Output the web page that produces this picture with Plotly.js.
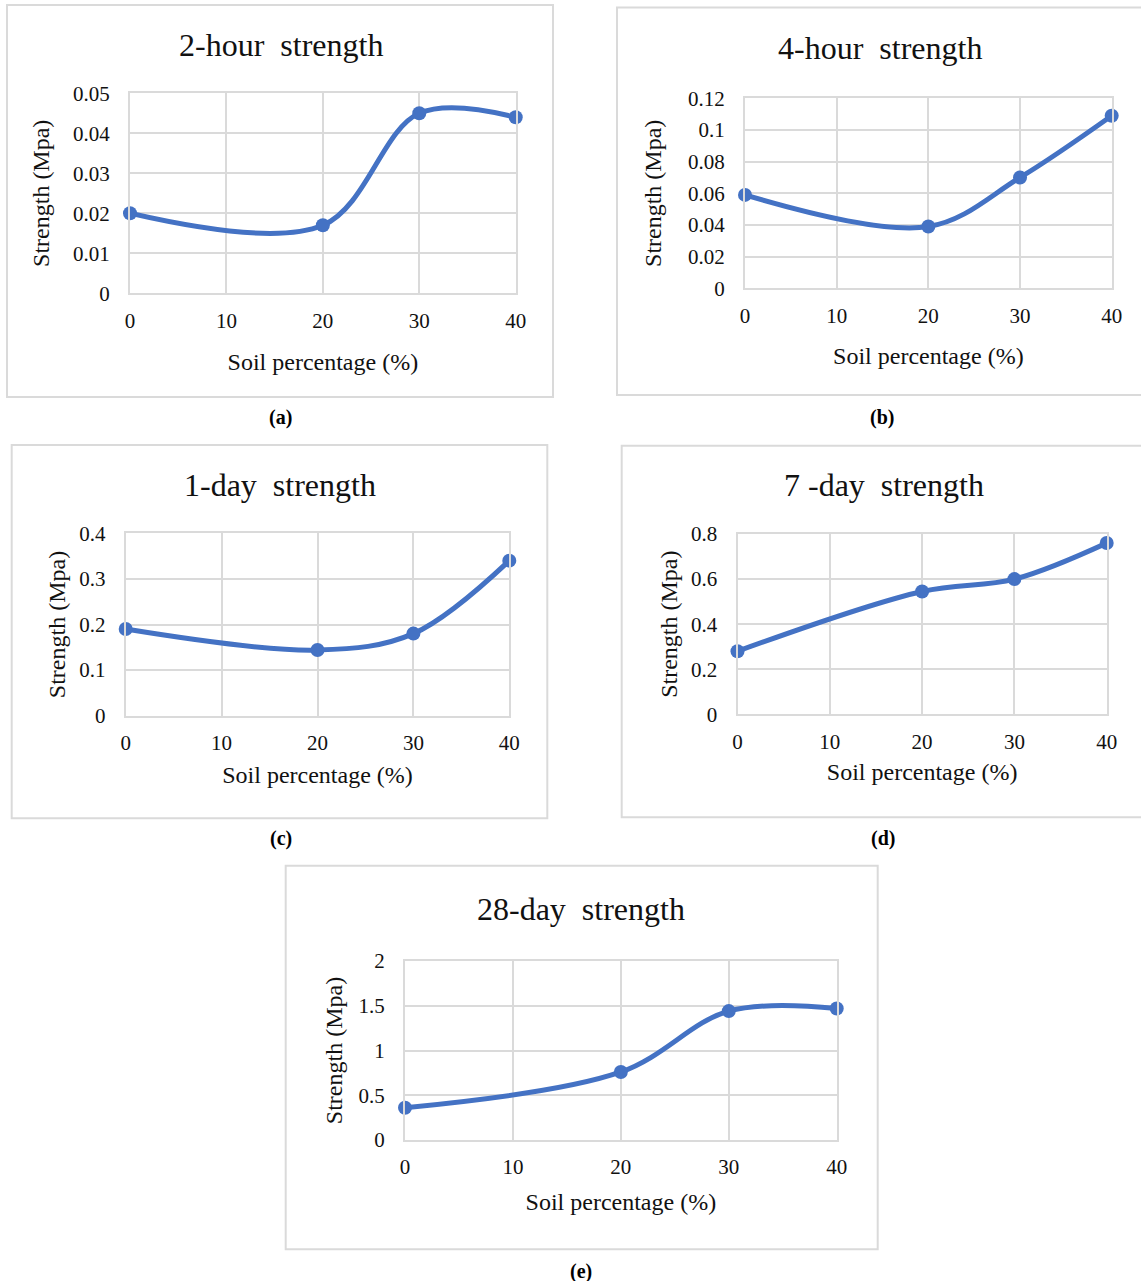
<!DOCTYPE html>
<html><head><meta charset="utf-8">
<script src="https://cdn.plot.ly/plotly-3.0.1.min.js"></script>
<style>html,body{margin:0;padding:0;background:#fff}#chart{width:1141px;height:1281px}</style>
</head><body><div id="chart"></div>
<script>
// ---------- data ----------
const soilPct = [0, 20, 30, 40];
const xTickVals = [0, 10, 20, 30, 40];
const xTickText = ['0', '10', '20', '30', '40'];

const strength2h = [0.020, 0.017, 0.045, 0.044];
const strength4h = [0.059, 0.039, 0.070, 0.109];
const strength1d = [0.190, 0.144, 0.180, 0.340];
const strength7d = [0.280, 0.545, 0.600, 0.760];
const strength28d = [0.36, 0.76, 1.44, 1.47];

const yTicks2h = [0, 0.01, 0.02, 0.03, 0.04, 0.05];
const yLabels2h = ['0', '0.01', '0.02', '0.03', '0.04', '0.05'];
const yTicks4h = [0, 0.02, 0.04, 0.06, 0.08, 0.1, 0.12];
const yLabels4h = ['0', '0.02', '0.04', '0.06', '0.08', '0.1', '0.12'];
const yTicks1d = [0, 0.1, 0.2, 0.3, 0.4];
const yLabels1d = ['0', '0.1', '0.2', '0.3', '0.4'];
const yTicks7d = [0, 0.2, 0.4, 0.6, 0.8];
const yLabels7d = ['0', '0.2', '0.4', '0.6', '0.8'];
const yTicks28d = [0, 0.5, 1, 1.5, 2];
const yLabels28d = ['0', '0.5', '1', '1.5', '2'];

const titles = ['2-hour\u00a0 strength', '4-hour\u00a0 strength', '1-day\u00a0 strength', '7 -day\u00a0 strength', '28-day\u00a0 strength'];
const panelLabels = ['(a)', '(b)', '(c)', '(d)', '(e)'];
const xTitle = 'Soil percentage (%)';
const yTitle = 'Strength (Mpa)';

// ---------- layout geometry (px) ----------
const W = 1141, H = 1281;
const panels = [
  {y: strength2h, yt: yTicks2h, yl: yLabels2h, plot: [130, 93.3, 515.7, 293.3], box: [7, 5, 553, 397], titleXY: [281, 45], labelXY: [280, 418], xso: 22, yso: 17},
  {y: strength4h, yt: yTicks4h, yl: yLabels4h, plot: [745, 98.3, 1111.7, 288.3], box: [617, 7.5, 1150, 395], titleXY: [880, 48], labelXY: [882, 418], xso: 21, yso: 20},
  {y: strength1d, yt: yTicks1d, yl: yLabels1d, plot: [125.7, 533.3, 509.3, 715.7], box: [11.7, 445, 547.3, 818.3], titleXY: [280, 485.5], labelXY: [281, 839], xso: 12, yso: 7},
  {y: strength7d, yt: yTicks7d, yl: yLabels7d, plot: [737.5, 534, 1106.7, 714.3], box: [621.7, 445.7, 1150, 817.3], titleXY: [884, 485.5], labelXY: [883, 839], xso: 11, yso: 6.5},
  {y: strength28d, yt: yTicks28d, yl: yLabels28d, plot: [405, 961, 836.7, 1140], box: [285.7, 865.7, 877.7, 1249.3], titleXY: [581, 909], labelXY: [581, 1271], xso: 15, yso: 9}
];

const FONT = 'Liberation Serif, Times New Roman, serif';
const GRID = '#dadada';
const BLUE = '#4472C4';
const px = x => x / W;
const py = y => 1 - y / H;

const data = [];
const layout = {
  width: W, height: H,
  margin: {l: 0, r: 0, t: 0, b: 0},
  paper_bgcolor: '#ffffff', plot_bgcolor: '#ffffff',
  showlegend: false,
  font: {family: FONT, color: '#000'},
  shapes: [], annotations: []
};

panels.forEach((p, i) => {
  const n = i === 0 ? '' : String(i + 1);
  data.push({
    type: 'scatter', mode: 'lines+markers',
    x: soilPct, y: p.y,
    xaxis: 'x' + n, yaxis: 'y' + n,
    line: {color: BLUE, width: 5, shape: 'spline', smoothing: 1},
    marker: {color: BLUE, size: 14},
    cliponaxis: false, hoverinfo: 'x+y'
  });
  const [l, t, r, b] = p.plot;
  layout['xaxis' + n] = {
    domain: [px(l), px(r)], anchor: 'y' + n,
    range: [0, 40], tickmode: 'array', tickvals: xTickVals, ticktext: xTickText,
    showgrid: true, gridcolor: GRID, gridwidth: 2,
    showline: true, mirror: true, linecolor: GRID, linewidth: 2,
    zeroline: false, ticks: '', ticklabelstandoff: 7,
    tickfont: {family: FONT, size: 21, color: '#111'},
    title: {text: xTitle, font: {family: FONT, size: 24, color: '#111'}, standoff: p.xso},
    fixedrange: true
  };
  layout['yaxis' + n] = {
    domain: [py(b), py(t)], anchor: 'x' + n,
    range: [0, p.yt[p.yt.length - 1]], tickmode: 'array', tickvals: p.yt, ticktext: p.yl,
    showgrid: true, gridcolor: GRID, gridwidth: 2,
    showline: true, mirror: true, linecolor: GRID, linewidth: 2,
    zeroline: false, ticks: '', ticklabelstandoff: 14,
    tickfont: {family: FONT, size: 21, color: '#111'},
    title: {text: yTitle, font: {family: FONT, size: 24, color: '#111'}, standoff: p.yso},
    fixedrange: true
  };
  const [bx0, by0, bx1, by1] = p.box;
  layout.shapes.push({type: 'rect', xref: 'paper', yref: 'paper',
    x0: px(bx0), x1: px(bx1), y0: py(by1), y1: py(by0),
    line: {color: GRID, width: 2}, fillcolor: 'rgba(0,0,0,0)', layer: 'below'});
  layout.annotations.push({xref: 'paper', yref: 'paper', x: px(p.titleXY[0]), y: py(p.titleXY[1]),
    xanchor: 'center', yanchor: 'middle', showarrow: false, text: titles[i],
    font: {family: FONT, size: 32, color: '#111'}});
  layout.annotations.push({xref: 'paper', yref: 'paper', x: px(p.labelXY[0]), y: py(p.labelXY[1]),
    xanchor: 'center', yanchor: 'middle', showarrow: false, text: '<b>' + panelLabels[i] + '</b>',
    font: {family: FONT, size: 20, color: '#000'}});
});

Plotly.newPlot('chart', data, layout, {staticPlot: true, displayModeBar: false});
</script>
</body></html>
